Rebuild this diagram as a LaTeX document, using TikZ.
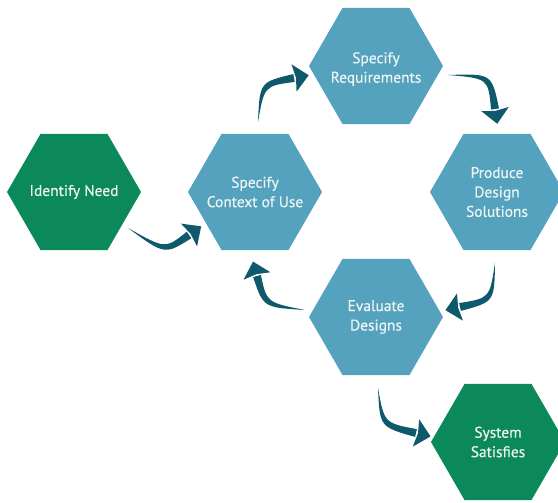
\documentclass[tikz,border=0pt]{standalone}
\usepackage{fontspec}
\setmainfont{PT Sans}
\newfontfamily\hexfont{PT Sans}[FakeBold=0.4]
\usetikzlibrary{shapes.geometric,calc}
\definecolor{hexgreen}{RGB}{11,137,91}
\definecolor{hexblue}{RGB}{84,162,189}
\definecolor{arrowteal}{RGB}{14,90,108}
\definecolor{txt}{RGB}{238,244,244}
\newcommand\taperarrow[3]{%
  \coordinate (tq) at ($(#3)!3pt!90:(#1)$);
  \fill[arrowteal] (#1) .. controls ($(#2)+(tq)-(#3)$) .. ($(#3)!4pt!90:(#2)$)
     -- ($(#3)!4pt!-90:(#2)$) .. controls ($(#2)-(tq)+(#3)$) .. (#1) -- cycle;
  \fill[arrowteal] ($(#3)!14pt!90:(#2)$) -- ($(#3)!-15pt!(#2)$) -- ($(#3)!14pt!-90:(#2)$)
     -- ($(#3)!-2pt!(#2)$) -- cycle;
}
\begin{document}
\begin{tikzpicture}[x=1bp,y=-1bp,
  hexa/.style={regular polygon, regular polygon sides=6, minimum size=134bp, inner sep=0pt},
  hextext/.style={text=txt, font=\hexfont\fontsize{15.5}{19.5}\selectfont, align=center, inner sep=0pt},
  gr/.style={hexa, fill=hexgreen},
  bl/.style={hexa, fill=hexblue}]
\useasboundingbox (0,0) rectangle (558,503);
\clip (0,0) rectangle (558,503);
\node[gr, label={[hextext]center:Identify Need}] (need) at (74,192) {};
\node[bl, label={[hextext]center:{Specify\\Context of Use}}] (ctx) at (255,192) {};
\node[bl, label={[hextext, yshift=-3bp]center:{Specify\\Requirements}}] (req) at (376,66) {};
\node[bl, label={[hextext]center:{Produce\\Design\\Solutions}}] (prod) at (497,192) {};
\node[bl, label={[hextext]center:{Evaluate\\Designs}}] (eval) at (376,317) {};
\node[gr, label={[hextext]center:{System\\Satisfies}}] (sys) at (498,442) {};
% arrow coordinates: start, control, head base
\coordinate (a1s) at (128,228); \coordinate (a1c) at (165,252); \coordinate (a1e) at (189,235);
\coordinate (a2s) at (258,122); \coordinate (a2c) at (262,84);  \coordinate (a2e) at (294,78);
\coordinate (a3s) at (448,75);  \coordinate (a3c) at (490,76);  \coordinate (a3e) at (495,109);
\coordinate (a4s) at (495,263); \coordinate (a4c) at (492,300); \coordinate (a4e) at (460,307);
\coordinate (a5s) at (305,310); \coordinate (a5c) at (265,305); \coordinate (a5e) at (257,276);
\coordinate (a6s) at (378,388); \coordinate (a6c) at (382,425); \coordinate (a6e) at (416,433);
\taperarrow{a1s}{a1c}{a1e}
\taperarrow{a2s}{a2c}{a2e}
\taperarrow{a3s}{a3c}{a3e}
\taperarrow{a4s}{a4c}{a4e}
\taperarrow{a5s}{a5c}{a5e}
\taperarrow{a6s}{a6c}{a6e}
\end{tikzpicture}
\end{document}
